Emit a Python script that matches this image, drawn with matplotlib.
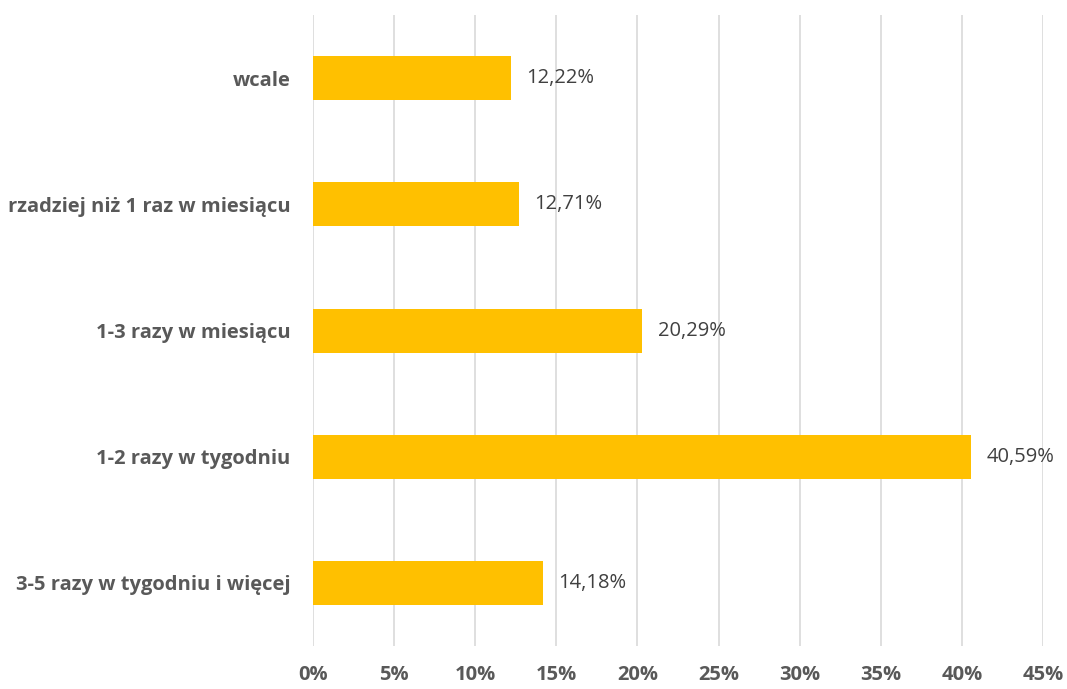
import matplotlib.pyplot as plt
from matplotlib.ticker import FuncFormatter

# categories listed from bottom to top
categories = [
    "3-5 razy w tygodniu i więcej",
    "1-2 razy w tygodniu",
    "1-3 razy w miesiącu",
    "rzadziej niż 1 raz w miesiącu",
    "wcale",
]
values = [14.18, 40.59, 20.29, 12.71, 12.22]
xticks = list(range(0, 50, 5))

plt.rcParams["font.family"] = ["Open Sans", "DejaVu Sans"]

fig = plt.figure(figsize=(10.67, 6.89), dpi=100)
ax = fig.add_axes([0.2933, 0.0624, 0.6842, 0.9156])

y = range(len(categories))
ax.barh(y, values, height=0.35, color="#FFC000", zorder=3)

for yi, v in zip(y, values):
    ax.text(v + 0.95, yi, f"{v:.2f}%".replace(".", ","), va="center", ha="left",
            fontsize=14.5, color="#404040")

ax.set_xlim(0, 45)
ax.set_ylim(-0.5, 4.5)
ax.set_xticks(xticks)
ax.xaxis.set_major_formatter(FuncFormatter(lambda x, p: f"{x:.0f}%"))
ax.set_yticks(list(y))
ax.set_yticklabels(categories)

for lab in ax.get_xticklabels() + ax.get_yticklabels():
    lab.set_fontweight("bold")
    lab.set_fontsize(14.5)
    lab.set_color("#595959")

ax.tick_params(axis="both", length=0)
ax.tick_params(axis="y", pad=16)
ax.tick_params(axis="x", pad=14)
ax.grid(axis="x", color="#D9D9D9", linewidth=1.2, zorder=0)
for s in ax.spines.values():
    s.set_visible(False)

fig.savefig("out.png", dpi=100)
